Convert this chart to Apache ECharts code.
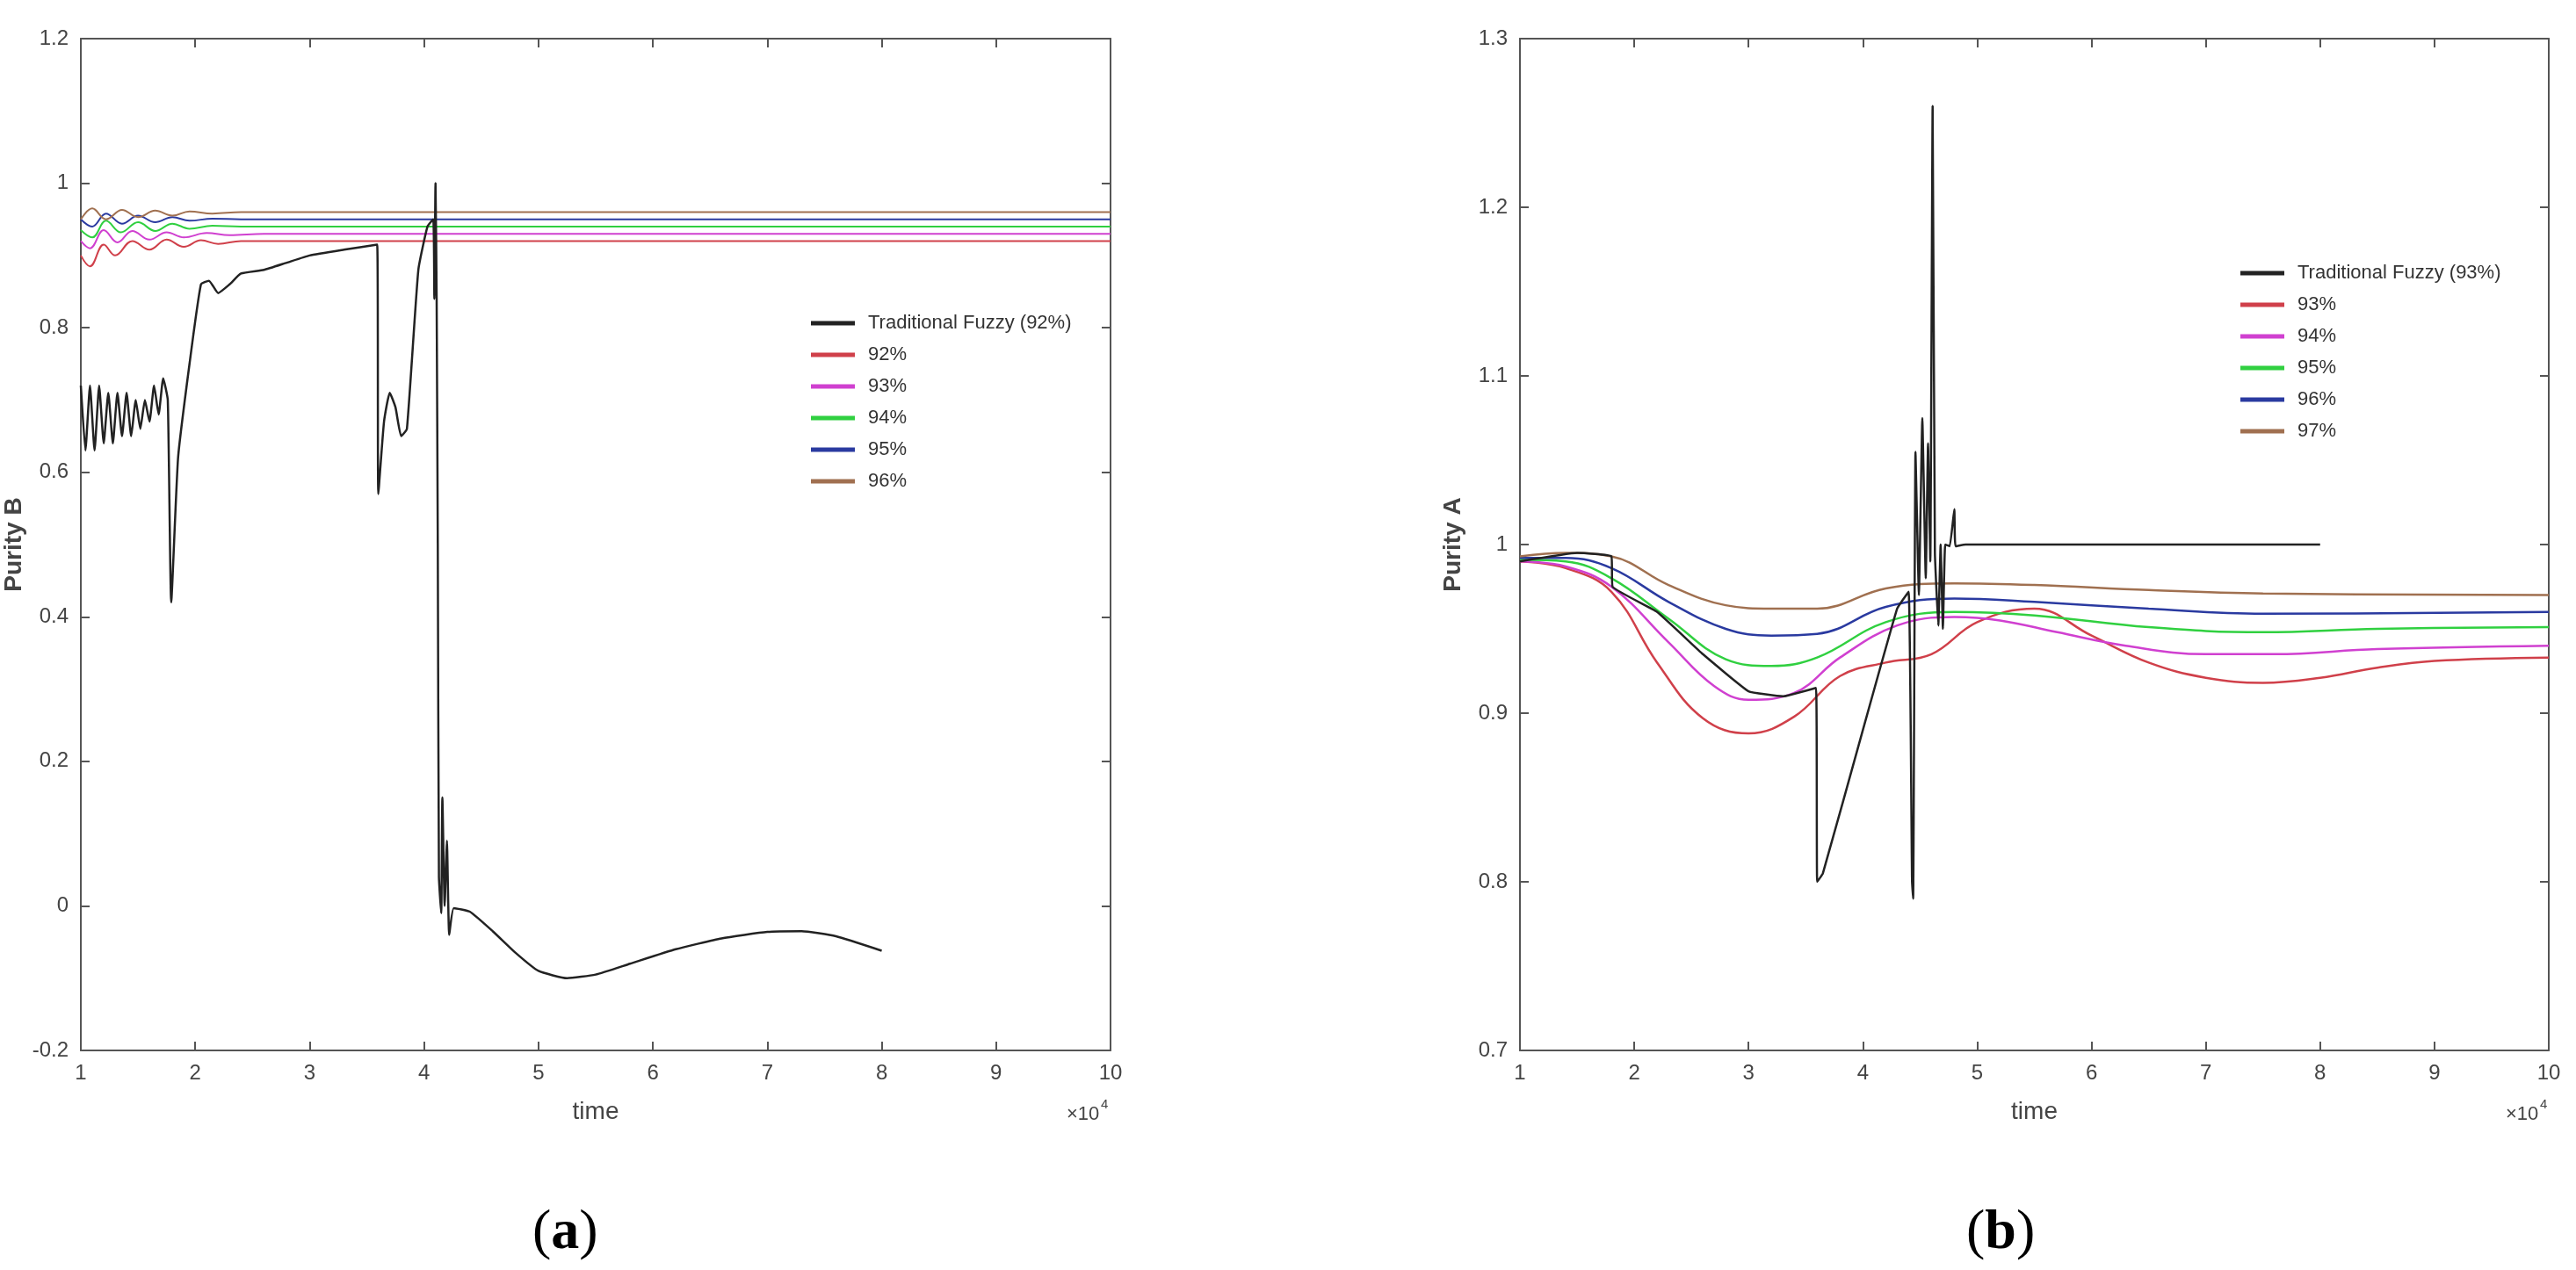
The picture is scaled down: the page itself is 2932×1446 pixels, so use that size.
<!DOCTYPE html>
<html><head><meta charset="utf-8">
<script src="https://cdn.jsdelivr.net/npm/echarts@6/dist/echarts.min.js"></script>
<style>html,body{margin:0;background:#fff}#c{width:2932px;height:1446px}</style>
</head><body><div id="c"></div>
<script>
// ---- data (time in units of 1e4) ----
const xTicks = [1,2,3,4,5,6,7,8,9,10];
const namesA = ['Traditional Fuzzy (92%)','92%','93%','94%','95%','96%'];
const namesB = ['Traditional Fuzzy (93%)','93%','94%','95%','96%','97%'];
const colors = ['#222222','#d0404a','#d040d0','#30d040','#2a3aa0','#a07050'];

const tradA = [[1,0.72],[1.04,0.63],[1.08,0.72],[1.12,0.63],[1.16,0.72],[1.2,0.64],[1.24,0.71],[1.28,0.64],[1.32,0.71],[1.36,0.65],[1.4,0.71],[1.44,0.65],[1.48,0.7],[1.52,0.66],[1.56,0.7],[1.6,0.67],[1.64,0.72],[1.68,0.68],[1.72,0.73],[1.76,0.7],[1.79,0.42],[1.85,0.62],[1.95,0.75],[2.05,0.86],[2.12,0.865],[2.2,0.848],[2.3,0.86],[2.4,0.875],[2.6,0.88],[2.8,0.89],[3.0,0.9],[3.3,0.908],[3.59,0.915],[3.6,0.57],[3.65,0.67],[3.7,0.71],[3.75,0.69],[3.8,0.65],[3.85,0.66],[3.95,0.88],[4.03,0.94],[4.08,0.95],[4.09,0.84],[4.1,1.0],[4.11,0.84],[4.12,0.5],[4.13,0.04],[4.15,-0.01],[4.16,0.15],[4.18,0.0],[4.2,0.09],[4.22,-0.04],[4.26,-0.003],[4.4,-0.008],[4.6,-0.035],[4.8,-0.065],[5.0,-0.09],[5.25,-0.1],[5.5,-0.095],[5.8,-0.08],[6.2,-0.06],[6.6,-0.045],[7.0,-0.036],[7.3,-0.035],[7.6,-0.042],[8.0,-0.062]];
const a92 = [[1,0.9],[1.08,0.885],[1.2,0.915],[1.3,0.9],[1.45,0.92],[1.6,0.908],[1.75,0.922],[1.9,0.912],[2.05,0.921],[2.2,0.916],[2.4,0.92],[3,0.92],[10,0.92]];
const a93 = [[1,0.92],[1.08,0.91],[1.2,0.935],[1.32,0.918],[1.45,0.934],[1.6,0.922],[1.75,0.932],[1.9,0.925],[2.1,0.931],[2.3,0.928],[2.6,0.93],[10,0.93]];
const a94 = [[1,0.935],[1.1,0.925],[1.22,0.948],[1.35,0.932],[1.5,0.946],[1.65,0.934],[1.8,0.944],[1.95,0.937],[2.15,0.941],[2.4,0.94],[10,0.94]];
const a95 = [[1,0.95],[1.1,0.94],[1.22,0.958],[1.36,0.944],[1.5,0.955],[1.65,0.946],[1.8,0.953],[1.95,0.948],[2.15,0.951],[2.4,0.95],[10,0.95]];
const a96 = [[1,0.95],[1.1,0.965],[1.22,0.95],[1.36,0.963],[1.5,0.953],[1.65,0.962],[1.8,0.955],[1.95,0.961],[2.15,0.958],[2.4,0.96],[10,0.96]];

const tradB = [[1,0.99],[1.5,0.995],[1.8,0.993],[1.81,0.975],[2.2,0.96],[2.6,0.935],[3.0,0.913],[3.3,0.91],[3.59,0.915],[3.6,0.8],[3.65,0.805],[4.0,0.89],[4.3,0.962],[4.4,0.972],[4.43,0.8],[4.44,0.79],[4.46,1.055],[4.49,0.97],[4.52,1.075],[4.55,0.98],[4.57,1.06],[4.59,0.99],[4.61,1.26],[4.63,0.995],[4.66,0.952],[4.68,1.0],[4.7,0.95],[4.72,1.0],[4.76,0.999],[4.8,1.021],[4.81,0.999],[4.9,1.0],[8.0,1.0]];
const b93 = [[1,0.99],[1.4,0.986],[1.8,0.972],[2.2,0.93],[2.6,0.897],[3.0,0.888],[3.4,0.898],[3.8,0.922],[4.2,0.93],[4.6,0.935],[5.0,0.954],[5.5,0.962],[6.0,0.946],[6.5,0.93],[7.0,0.921],[7.5,0.918],[8.0,0.921],[8.5,0.927],[9.0,0.931],[10,0.933]];
const b94 = [[1,0.99],[1.4,0.987],[1.8,0.975],[2.3,0.942],[2.7,0.916],[3.0,0.908],[3.4,0.912],[3.8,0.933],[4.3,0.952],[4.8,0.957],[5.2,0.955],[5.7,0.948],[6.3,0.94],[7.0,0.935],[7.6,0.935],[8.5,0.938],[10,0.94]];
const b95 = [[1,0.991],[1.4,0.99],[1.8,0.98],[2.3,0.956],[2.8,0.932],[3.2,0.928],[3.6,0.933],[4.2,0.954],[4.8,0.96],[5.5,0.958],[6.5,0.951],[7.5,0.948],[8.5,0.95],[10,0.951]];
const b96 = [[1,0.992],[1.4,0.992],[1.8,0.986],[2.3,0.966],[2.8,0.95],[3.2,0.946],[3.6,0.947],[4.2,0.963],[4.8,0.968],[5.5,0.966],[6.5,0.962],[7.5,0.959],[10,0.96]];
const b97 = [[1,0.993],[1.4,0.995],[1.8,0.993],[2.3,0.976],[2.8,0.964],[3.2,0.962],[3.6,0.962],[4.2,0.974],[4.8,0.977],[5.5,0.976],[6.5,0.973],[7.5,0.971],[10,0.97]];

const seriesA = [tradA,a92,a93,a94,a95,a96];
const seriesB = [tradB,b93,b94,b95,b96,b97];

const chart = echarts.init(document.getElementById('c'));
const grids = [{left:92,top:44,width:1172,height:1152},{left:1730,top:44,width:1171,height:1152}];
const axCol = '#555';
const tickLbl = {color:'#444',fontSize:24,fontFamily:'Liberation Sans',margin:14};
function xAx(g,pos,show){return {type:'value',gridIndex:g,position:pos,min:1,max:10,interval:1,
  axisLine:{show:true,onZero:false,lineStyle:{color:axCol,width:2}},axisTick:{show:true,inside:true,length:10,lineStyle:{color:axCol,width:2}},
  axisLabel:Object.assign({show:show},tickLbl),splitLine:{show:false},
  name:show?'time':'',nameLocation:'middle',nameGap:56,nameTextStyle:{color:'#444',fontSize:28,fontFamily:'Liberation Sans'}};}
function yAx(g,pos,show,min,max,name){return {type:'value',gridIndex:g,position:pos,min:min,max:max,interval:0.2,
  axisLine:{show:true,onZero:false,lineStyle:{color:axCol,width:2}},axisTick:{show:true,inside:true,length:10,lineStyle:{color:axCol,width:2}},
  axisLabel:Object.assign({show:show,formatter:v=>String(Math.round(v*10)/10)},tickLbl),splitLine:{show:false},
  name:show?name:'',nameLocation:'middle',nameGap:62,nameTextStyle:{color:'#444',fontSize:28,fontWeight:'bold',fontFamily:'Liberation Sans'}};}
const yB1=yAx(1,'left',true,0.7,1.3,'Purity A'), yB2=yAx(1,'right',false,0.7,1.3,'');
yB1.interval=0.1; yB2.interval=0.1;
const series=[];
seriesA.forEach((d,i)=>series.push({name:namesA[i],type:'line',xAxisIndex:0,yAxisIndex:0,data:d,showSymbol:false,smooth:i>0?0.4:0.15,lineStyle:{color:colors[i],width:i?2:2.5},itemStyle:{color:colors[i]},z:i?2:3}));
seriesB.forEach((d,i)=>series.push({name:namesB[i]+' ',type:'line',xAxisIndex:2,yAxisIndex:2,data:d,showSymbol:false,smooth:i>0?0.4:0.1,lineStyle:{color:colors[i],width:i?2.5:2.5},itemStyle:{color:colors[i]},z:i?2:3}));
const legStyle={icon:'path://M0,0H10V1H0Z',itemWidth:70,itemHeight:5,itemGap:14,orient:'vertical',textStyle:{color:'#333',fontSize:22,fontFamily:'Liberation Sans'}};
chart.setOption({
  animation:false,
  grid:grids,
  xAxis:[xAx(0,'bottom',true),xAx(0,'top',false),xAx(1,'bottom',true),xAx(1,'top',false)],
  yAxis:[yAx(0,'left',true,-0.2,1.2,'Purity B'),yAx(0,'right',false,-0.2,1.2,''),yB1,yB2],
  legend:[Object.assign({left:918,top:352,data:namesA},legStyle),Object.assign({left:2545,top:295,data:namesB.map(n=>n+' ')},legStyle)],
  series:series,
  graphic:[
    {type:'text',left:1214,top:1258,style:{text:'×10',fill:'#444',fontSize:22,fontFamily:'Liberation Sans'}},
    {type:'text',left:1253,top:1250,style:{text:'4',fill:'#444',fontSize:15,fontFamily:'Liberation Sans'}},
    {type:'text',left:2852,top:1258,style:{text:'×10',fill:'#444',fontSize:22,fontFamily:'Liberation Sans'}},
    {type:'text',left:2891,top:1250,style:{text:'4',fill:'#444',fontSize:15,fontFamily:'Liberation Sans'}},
    {type:'text',left:606,top:1372,style:{rich:{p:{fontSize:64,fontFamily:'Liberation Serif',fill:'#000'},b:{fontSize:64,fontWeight:'bold',fontFamily:'Liberation Serif',fill:'#000'}},text:'{p|(}{b|a}{p|)}'}},
    {type:'text',left:2238,top:1372,style:{rich:{p:{fontSize:64,fontFamily:'Liberation Serif',fill:'#000'},b:{fontSize:64,fontWeight:'bold',fontFamily:'Liberation Serif',fill:'#000'}},text:'{p|(}{b|b}{p|)}'}}
  ]
});
</script></body></html>
